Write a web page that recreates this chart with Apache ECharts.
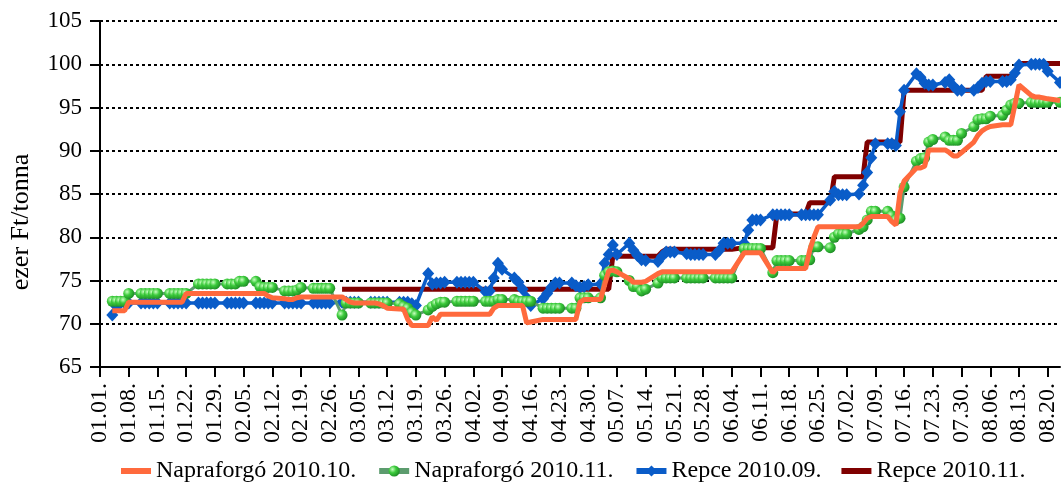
<!DOCTYPE html>
<html>
<head>
<meta charset="utf-8">
<script src="https://cdn.jsdelivr.net/npm/echarts@6/dist/echarts.min.js"></script>
<style>
  html, body { margin: 0; padding: 0; background: #fff; }
  #chart { width: 1061px; height: 489px; }
</style>
</head>
<body>
<div id="chart"></div>
<script>
// calendar days shown on the axis: 01.01. - 08.23.
const dayCount = 235;
const dayLabels = [];
const tradeDays = []; // axis index of every weekday from 01.04.
for (let i = 0; i < dayCount; i++) {
  const d = new Date(2010, 0, 1 + i);
  const mm = String(d.getMonth() + 1).padStart(2, "0");
  const dd = String(d.getDate()).padStart(2, "0");
  dayLabels.push(mm + "." + dd + ".");
  if (i >= 3 && d.getDay() % 6 !== 0) tradeDays.push(i);
}

const seriesNames = ["Napraforgó 2010.10.", "Napraforgó 2010.11.", "Repce 2010.09.", "Repce 2010.11."];

// one value per trading day, a row per week (Mon-Fri), from 01.04.
const nap10 = [
  71.5, 71.5, 71.5, 71.5, 72.5,
  72.5, 72.5, 72.5, 72.5, 72.5,
  72.5, 72.5, 72.5, 72.5, 73.5,
  73.5, 73.5, 73.5, 73.5, 73.5,
  73.5, 73.5, 73.5, 73.5, 73.5,
  73.5, 73.5, 73.5, 73.2, 73.0,
  72.9, 72.8, 72.8, 73.0, 73.1,
  73.1, 73.1, 73.1, 73.1, 73.1,
  73.1, 72.8, 72.5, 72.4, 72.4,
  72.4, 72.4, 72.3, 72.1, 71.8,
  71.7, 71.7, 70.5, 69.8, 69.8,
  69.8, 70.8, 70.4, 71.1, 71.1,
  71.1, 71.1, 71.1, 71.1, 71.1,
  71.1, 71.1, 71.8, 72.1, 72.1,
  72.1, 72.1, 72.1, 70.1, 70.2,
  70.5, 70.5, 70.5, 70.5, 70.5,
  70.5, 70.5, 72.5, 72.8, 72.8,
  72.8, 74.5, 76.1, 76.2, 76.0,
  75.2, 74.8, 74.8, 74.8, 74.9,
  75.8, 76.0, 76.0, 76.0, 76.0,
  76.0, 76.0, 76.0, 76.0, 76.0,
  76.0, 76.0, 76.0, 76.0, 76.0,
  78.2, 78.2, 78.2, 78.2, 78.2,
  75.9, 76.4, 76.4, 76.4, 76.4,
  76.4, 76.4, 78.5, 80.0, 81.2,
  81.2, 81.2, 81.2, 81.2, 81.2,
  81.2, 81.6, 82.2, 82.4, 82.4,
  82.4, 81.8, 81.4, 85.1, 86.5,
  88.0, 88.0, 88.2, 90.1, 90.1,
  90.1, 89.8, 89.4, 89.4, 89.8,
  91.0, 91.8, 92.3, 92.6, 92.8,
  93.0, 93.0, 93.0, 95.3, 97.6,
  96.4, 96.2, 96.2, 96.1, 96.0,
  95.8
];

const nap11 = [
  72.6, 72.6, 72.6, 72.6, 73.5,
  73.5, 73.5, 73.5, 73.5, 73.5,
  73.5, 73.5, 73.5, 73.5, 73.5,
  74.6, 74.6, 74.6, 74.6, 74.6,
  74.6, 74.6, 74.6, 74.9, 74.9,
  74.9, 74.3, 74.2, 74.2, 74.2,
  73.8, 73.8, 73.8, 73.9, 74.2,
  74.1, 74.1, 74.1, 74.1, 74.1,
  71.0, 72.4, 72.4, 72.4, 72.4,
  72.4, 72.4, 72.4, 72.4, 72.4,
  72.3, 72.0, 71.8, 71.3, 71.0,
  71.6, 72.0, 72.3, 72.5, 72.5,
  72.6, 72.6, 72.6, 72.6, 72.6,
  72.6, 72.6, 72.6, 72.8, 72.8,
  72.8, 72.6, 72.6, 72.6, 72.6,
  71.8, 71.8, 71.8, 71.8, 71.8,
  71.8, 71.8, 73.0, 73.0, 73.0,
  73.0, 75.6, 76.0, 76.1, 76.0,
  75.0, 74.3, 74.3, 73.8, 74.0,
  74.7, 75.3, 75.3, 75.3, 75.3,
  75.3, 75.3, 75.3, 75.3, 75.3,
  75.3, 75.3, 75.3, 75.3, 75.3,
  78.7, 78.7, 78.7, 78.7, 78.7,
  75.9, 77.3, 77.3, 77.3, 77.3,
  77.3, 77.3, 77.4, 78.9, 78.9,
  78.8, 80.0, 80.4, 80.4, 80.4,
  80.9, 81.2, 82.0, 83.0, 83.0,
  83.0, 82.5, 82.0, 82.2, 85.8,
  88.8, 89.1, 89.2, 91.0, 91.3,
  91.6, 91.2, 91.2, 91.2, 92.0,
  92.8, 93.6, 93.7, 93.7, 94.0,
  94.1, 94.7, 95.3, 95.5, 95.5,
  95.6, 95.6, 95.6, 95.6, 95.6,
  95.6
];

const rep09 = [
  71.0, 72.0, 72.4, 72.4, 72.4,
  72.4, 72.4, 72.4, 72.4, 72.4,
  72.4, 72.4, 72.4, 72.4, 72.4,
  72.4, 72.4, 72.4, 72.4, 72.4,
  72.4, 72.4, 72.4, 72.4, 72.4,
  72.4, 72.4, 72.4, 72.4, 72.4,
  72.4, 72.4, 72.4, 72.4, 72.4,
  72.4, 72.4, 72.4, 72.4, 72.4,
  72.5, 72.5, 72.5, 72.5, 72.5,
  72.5, 72.5, 72.5, 72.5, 72.5,
  72.5, 72.5, 72.5, 72.3, 72.1,
  75.8, 74.6, 74.7, 74.7, 74.8,
  74.8, 74.8, 74.8, 74.8, 74.8,
  73.7, 73.8, 75.3, 77.0, 76.3,
  75.3, 74.8, 74.0, 73.0, 72.1,
  72.9, 73.5, 74.2, 74.7, 74.7,
  74.7, 74.4, 74.2, 74.3, 74.5,
  74.6, 77.0, 78.0, 79.1, 78.0,
  79.3, 78.5, 77.9, 77.4, 77.3,
  77.2, 77.8, 78.3, 78.3, 78.3,
  78.1, 78.0, 78.0, 78.0, 78.0,
  78.0, 78.5, 79.3, 79.3, 79.3,
  79.3, 80.8, 82.0, 82.0, 82.0,
  82.6, 82.6, 82.6, 82.6, 82.6,
  82.6, 82.6, 82.6, 82.6, 82.6,
  84.3, 85.3, 84.9, 84.9, 84.9,
  85.0, 86.0, 87.5, 89.2, 90.8,
  90.8, 90.8, 90.6, 94.5, 97.0,
  98.9, 98.5, 97.8, 97.6, 97.6,
  97.9, 98.2, 97.5, 97.0, 97.0,
  97.0, 97.3, 97.8, 98.0, 98.0,
  98.0, 98.0, 98.2, 99.0, 99.9,
  100.0, 100.0, 100.0, 100.0, 99.2,
  97.9
];

// Repce 2010.11. is quoted from 03.01. (trading day no. 40)
const rep11Start = 40;
const rep11 = [
  74.0, 74.0, 74.0, 74.0, 74.0,
  74.0, 74.0, 74.0, 74.0, 74.0,
  74.0, 74.0, 74.0, 74.0, 74.0,
  74.0, 74.0, 74.0, 74.0, 74.0,
  74.0, 74.0, 74.0, 74.0, 74.0,
  74.0, 74.0, 74.0, 74.0, 74.0,
  74.0, 74.0, 74.0, 74.0, 74.0,
  74.0, 74.0, 74.0, 74.0, 74.0,
  74.0, 74.0, 74.0, 74.0, 74.0,
  74.0, 74.0, 74.0, 77.8, 77.8,
  77.8, 77.8, 77.8, 77.8, 77.8,
  77.8, 78.3, 78.6, 78.6, 78.6,
  78.6, 78.6, 78.6, 78.6, 78.6,
  78.6, 78.6, 78.6, 78.6, 78.6,
  78.8, 78.8, 78.8, 78.8, 78.8,
  78.8, 82.7, 82.7, 82.7, 82.7,
  82.7, 82.7, 84.0, 84.0, 84.0,
  84.0, 87.0, 87.0, 87.0, 87.0,
  87.0, 87.0, 91.0, 91.0, 91.0,
  91.0, 91.0, 91.0, 91.0, 97.0,
  97.0, 97.0, 97.0, 97.0, 97.0,
  97.0, 97.0, 97.0, 97.0, 97.0,
  97.0, 97.0, 97.0, 98.6, 98.6,
  98.6, 98.6, 98.6, 98.6, 100.1,
  100.1, 100.1, 100.1, 100.1, 100.1,
  100.1
];

function toPoints(values, offset) {
  return values.map((v, k) => [tradeDays[k + offset], v]);
}

const serif = "Liberation Serif";
const barIcon = "path://M0,0H30V6H0Z"; // plain thick line in the legend
const chart = echarts.init(document.getElementById("chart"));

const option = {
  animation: false,
  textStyle: { fontFamily: serif },
  grid: { left: 97, right: 1, top: 21, bottom: 122 },
  legend: {
    data: [
      { name: seriesNames[0], icon: barIcon },
      { name: seriesNames[1], lineStyle: { width: 6 } },
      { name: seriesNames[2], lineStyle: { width: 6 } },
      { name: seriesNames[3], icon: barIcon }
    ],
    left: 116,
    top: 454,
    itemWidth: 30,
    itemHeight: 14,
    itemGap: 20,
    textStyle: { color: "#000", fontSize: 24, fontFamily: serif }
  },
  xAxis: {
    type: "category",
    data: dayLabels,
    boundaryGap: false,
    axisLine: { lineStyle: { color: "#000", width: 2 } },
    axisTick: { interval: 6, length: 10, lineStyle: { color: "#000", width: 2 } },
    axisLabel: {
      interval: 6,
      rotate: 90,
      margin: 16,
      color: "#000",
      fontSize: 24,
      fontFamily: serif
    },
    splitLine: { show: false }
  },
  yAxis: {
    type: "value",
    min: 65,
    max: 105,
    interval: 5,
    name: "ezer Ft/tonna",
    nameLocation: "middle",
    nameGap: 66,
    nameRotate: 90,
    nameTextStyle: { color: "#000", fontSize: 26, fontFamily: serif, padding: [0, 56, 0, 0] },
    axisLine: { show: true, lineStyle: { color: "#000", width: 2 } },
    axisTick: { show: true, length: 10, lineStyle: { color: "#000", width: 2 } },
    axisLabel: { color: "#000", fontSize: 23, margin: 18, fontFamily: serif },
    splitLine: { lineStyle: { color: "#000", width: 2, type: [3, 3] } }
  },
  series: [
    {
      name: seriesNames[0],
      type: "line",
      z: 5,
      data: toPoints(nap10, 0),
      symbol: "none",
      color: "#FF6A3D",
      lineStyle: { width: 5, color: "#FF6A3D" }
    },
    {
      name: seriesNames[1],
      type: "line",
      z: 4,
      data: toPoints(nap11, 0),
      symbol: "circle",
      symbolSize: 11,
      showAllSymbol: true,
      lineStyle: { width: 3, color: "#5C9C6E" },
      itemStyle: {
        color: new echarts.graphic.RadialGradient(0.35, 0.35, 0.7, [
          { offset: 0, color: "#C8FFC0" },
          { offset: 0.45, color: "#3CCB3C" },
          { offset: 1, color: "#1C8A24" }
        ])
      }
    },
    {
      name: seriesNames[2],
      type: "line",
      z: 3,
      data: toPoints(rep09, 0),
      symbol: "diamond",
      symbolSize: [12, 13],
      showAllSymbol: true,
      color: "#0A5CC8",
      lineStyle: { width: 3.5, color: "#0A5CC8" },
      itemStyle: { color: "#0A5CC8" }
    },
    {
      name: seriesNames[3],
      type: "line",
      z: 2,
      data: toPoints(rep11, rep11Start),
      symbol: "none",
      color: "#7F0000",
      lineStyle: { width: 5, color: "#7F0000" }
    }
  ]
};

chart.setOption(option);
</script>
</body>
</html>
